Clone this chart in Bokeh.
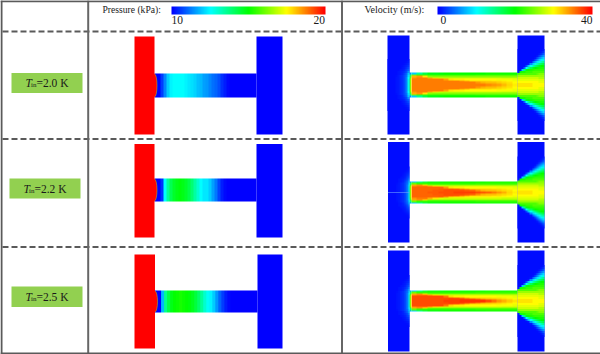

import numpy as np
from bokeh.plotting import figure
from bokeh.models import LinearColorMapper, Range1d
from bokeh.core.properties import value
from bokeh.embed import file_html
from bokeh.resources import INLINE

pressure_title = "Pressure (kPa):"
velocity_title = "Velocity (m/s):"
row_labels = ["2.0 K", "2.2 K", "2.5 K"]

pressure_inlet = 20.0
pressure_outlet = 10.0
velocity_plate = 0.5

pressure_channel_1 = [10, 10, 10.6, 11.3, 12, 12.4, 12.5, 12.5, 12.5, 12.5, 12.4, 12.3, 12.2, 12.1, 11.9, 11.8, 11.6,
                      11.5, 11.3, 11.1, 11, 10.8, 10.5, 10.3, 10.1, 10, 10, 10, 10, 10, 10, 10, 10, 10]
pressure_channel_2 = [10, 10, 10.5, 12.5, 13.5, 14.2, 14.6, 14.8, 14.9, 14.8, 14.6, 14.3, 13.9, 13.4, 13, 12.5, 12.3,
                      12.3, 12, 11.6, 11.2, 10.7, 10.3, 10.1, 10, 10, 10, 10, 10, 10, 10, 10, 10, 10]
pressure_channel_3 = [10, 10, 11.8, 13.6, 14.3, 14.8, 15, 15.1, 15.2, 15.1, 15, 14.9, 14.7, 14.4, 14, 13.5, 13,
                      12.6, 12.4, 12, 11.5, 11, 10.6, 10.3, 10.1, 10, 10, 10, 10, 10, 10, 10, 10, 10]

# outer layers of the channel, wall inward, along the channel (same in all three panels)
velocity_wall = [
    [8, 14, 17, 19, 19, 19.5, 20, 20, 20, 20, 20, 20, 20, 20, 20.5, 20.5, 20.5, 20.5, 20.5, 20.5],
    [24, 22, 22, 21.5, 21.5, 21.5, 21.5, 21.5, 21.5, 21.5, 21.5, 21.5, 22, 22, 22, 22, 22, 22, 22, 22],
    [33, 34, 31, 25.5, 25, 25, 25, 25, 25, 25, 25, 25, 25, 25, 25, 25, 25, 25, 25, 25],
    [34, 35, 35, 33, 31, 28.5, 28, 28, 28, 28, 28, 28, 28, 28, 28, 28, 28, 27.5, 27.5, 27.5],
]
# inner layers, toward the centre line
velocity_core_1 = [
    [35, 35, 35, 35, 35, 35, 33.5, 31, 30.5, 30.5, 30, 30, 30, 30, 30, 30, 29.5, 29.5, 29.5, 29],
    [35, 35, 35, 35, 35, 35, 35, 35, 35, 34, 33, 31.5, 31.5, 31.5, 31.5, 31, 31, 30.5, 30, 29.5],
    [35, 35, 35, 35, 35, 35, 35, 35, 35, 35, 35, 35, 34, 33, 32.5, 32.5, 32, 31.5, 31, 30],
    [35, 35, 35, 35, 35, 35, 35, 35, 35, 35, 35, 35, 35, 35, 34.5, 34, 33.5, 32.5, 31.5, 30.5],
]
velocity_core_2 = [
    [36, 36, 36, 36, 36, 36, 34, 31, 30.5, 30.5, 30, 30, 30, 30, 30, 30, 29.5, 29.5, 29.5, 29],
    [36, 36, 36, 36, 36, 36.5, 36.5, 36.5, 36, 34.5, 33, 31.5, 31.5, 31.5, 31.5, 31, 31, 30.5, 30, 29.5],
    [36, 36, 36, 36, 36.5, 36.5, 37, 37, 37, 37, 36.5, 36, 34.5, 33, 32.5, 32.5, 32, 31.5, 31, 30],
    [36, 36, 36, 36.5, 36.5, 37, 37, 37, 37.5, 37.5, 37.5, 37.5, 37, 36.5, 36, 35, 34, 33, 31.5, 30.5],
]
velocity_core_3 = [
    [37, 37, 37, 37, 37, 37, 35, 31.5, 30.5, 30.5, 30, 30, 30, 30, 30, 30, 29.5, 29.5, 29.5, 29],
    [37, 37, 37, 37, 37, 37, 37, 37, 36.5, 35, 33, 31.5, 31.5, 31.5, 31.5, 31, 31, 30.5, 30, 29.5],
    [37, 37, 37, 37, 37, 37, 37, 37.5, 37.5, 37.5, 37, 36.5, 35, 33.5, 32.5, 32.5, 32, 31.5, 31, 30],
    [37, 37, 37, 37, 37, 37, 37.5, 37.5, 37.5, 38, 38, 38, 38, 38, 37, 35.5, 34, 33, 32, 31],
]
# thin strip at the channel mouth, wall inward
velocity_entry = [[4, 8], [12, 18], [16, 24], [20, 28], [20, 30], [20, 30], [20, 30], [20, 30]]
# centre line outward, from the channel exit to the plate's far edge
velocity_jet = [
    [31, 31, 31, 31, 31, 31, 31, 30, 30, 30, 30, 30, 30],
    [30, 30, 30, 30, 30, 30, 30, 30, 30, 30, 29, 29, 29],
    [29, 29, 29, 29, 29, 29, 29, 29, 29, 29, 28.5, 28.5, 28.5],
    [28, 28, 28, 28, 28, 28, 28, 28, 28, 28, 27, 27, 27],
    [26, 26, 26, 26, 26, 26, 26, 26, 26, 26, 26, 26, 26],
    [23, 23, 23, 23, 23, 23, 23, 23, 23, 24, 25, 25, 25],
    [1, 19, 21, 21, 22, 22, 22, 23, 23, 23, 23, 23, 23],
    [0.5, 0.5, 8, 15, 19, 20.5, 21, 21.5, 22, 22, 22, 22, 22],
    [0.5, 0.5, 0.5, 4, 10, 14, 16.5, 18.7, 20, 20.5, 21, 21, 21],
    [0.5, 0.5, 0.5, 0.5, 3, 7.5, 10.5, 13.4, 15.6, 17.3, 18.7, 20, 20],
    [0.5, 0.5, 0.5, 0.5, 0.5, 1, 5.5, 8.5, 11, 13, 15, 16.4, 17.6],
    [0.5, 0.5, 0.5, 0.5, 0.5, 0.5, 1, 4.5, 7, 9, 11, 13, 14.4],
    [0.5, 0.5, 0.5, 0.5, 0.5, 0.5, 0.5, 1, 3, 5.5, 8, 9.5, 11.2],
    [0.5, 0.5, 0.5, 0.5, 0.5, 0.5, 0.5, 0.5, 1, 3, 5, 6.9, 8.5],
    [0.5, 0.5, 0.5, 0.5, 0.5, 0.5, 0.5, 0.5, 0.5, 1, 2.5, 4.5, 6],
    [0.5, 0.5, 0.5, 0.5, 0.5, 0.5, 0.5, 0.5, 0.5, 0.5, 1, 2, 3.5],
    [0.5, 0.5, 0.5, 0.5, 0.5, 0.5, 0.5, 0.5, 0.5, 0.5, 0.5, 1, 2],
    [0.5, 0.5, 0.5, 0.5, 0.5, 0.5, 0.5, 0.5, 0.5, 0.5, 0.5, 0.5, 1],
]
# centre line outward, across the inlet plate toward the channel mouth
velocity_glow = [
    [0.5, 0.5, 0.5, 0.5, 0.8, 1, 1.5, 2, 3, 5, 11],
    [0.5, 0.5, 0.5, 0.5, 0.8, 1, 1.5, 2, 3, 5, 11],
    [0.5, 0.5, 0.5, 0.5, 0.8, 1, 1.5, 2, 3, 5, 11],
    [0.5, 0.5, 0.5, 0.5, 0.8, 1, 1.5, 2, 3, 5, 10],
    [0.5, 0.5, 0.5, 0.5, 0.7, 1, 1.5, 2, 3, 4.5, 9],
    [0.5, 0.5, 0.5, 0.5, 0.5, 0.8, 1, 1.5, 2.5, 4, 8],
    [0.5, 0.5, 0.5, 0.5, 0.5, 0.8, 1, 1.3, 2, 3, 6],
    [0.5, 0.5, 0.5, 0.5, 0.5, 0.5, 0.8, 1, 1.5, 2.5, 4],
    [0.5, 0.5, 0.5, 0.5, 0.5, 0.5, 0.6, 0.8, 1.2, 2, 3],
    [0.5, 0.5, 0.5, 0.5, 0.5, 0.5, 0.5, 0.7, 1, 1.5, 2.2],
    [0.5, 0.5, 0.5, 0.5, 0.5, 0.5, 0.5, 0.5, 0.7, 1, 1.7],
    [0.5, 0.5, 0.5, 0.5, 0.5, 0.5, 0.5, 0.5, 0.5, 0.7, 1.2],
    [0.5, 0.5, 0.5, 0.5, 0.5, 0.5, 0.5, 0.5, 0.5, 0.5, 0.9],
]

pressure_channels = [pressure_channel_1, pressure_channel_2, pressure_channel_3]
velocity_cores = [velocity_core_1, velocity_core_2, velocity_core_3]

W, H = 600, 354
def Y(px):
    return H - px

anchors = [(0, 0, 255), (0, 255, 255), (0, 255, 0), (255, 255, 0), (255, 0, 0)]
palette = []
for t in np.linspace(0, 4, 256):
    i = min(int(t), 3)
    f = t - i
    c = [round(anchors[i][k] * (1 - f) + anchors[i + 1][k] * f) for k in range(3)]
    palette.append("#%02x%02x%02x" % tuple(c))
pmap = LinearColorMapper(palette=palette, low=10, high=20)
vmap = LinearColorMapper(palette=palette, low=0, high=40)

p = figure(width=W, height=H, x_range=Range1d(0, W), y_range=Range1d(0, H),
           output_backend="svg", toolbar_location=None, min_border=0,
           outline_line_color=None, background_fill_color="white", border_fill_color="white")
p.axis.visible = False
p.grid.visible = False
p.styles = {"position": "absolute", "left": "0px", "top": "0px"}

def field(rows, x0, x1, y0, y1, mapper):
    arr = np.array(rows, dtype=float)
    p.image(image=[arr], x=x0, y=Y(y1), dw=x1 - x0, dh=y1 - y0, color_mapper=mapper)

p_geo = [
    dict(l0=134, l1=154, r0=256, r1=282, top=36, bot=134, ct=73, cb=97),
    dict(l0=134, l1=154, r0=256, r1=282, top=143.5, bot=237, ct=178, cb=201),
    dict(l0=134, l1=154.5, r0=257, r1=282, top=254, bot=348, ct=290, cb=312),
]
v_geo = [
    dict(l0=387, l1=409, r0=517, r1=544, top=35, bot=134, ct=72, cb=97),
    dict(l0=387.5, l1=409, r0=517, r1=544, top=141.5, bot=242, ct=181, cb=203),
    dict(l0=387.5, l1=409, r0=517, r1=544, top=250, bot=351, ct=290, cb=311),
]

for g, prof in zip(p_geo, pressure_channels):
    field([prof], g["l1"], g["r0"], g["ct"], g["cb"], pmap)
    cy = (g["ct"] + g["cb"]) / 2
    p.ellipse(x=[g["l1"]], y=[Y(cy)], width=5, height=g["cb"] - g["ct"] - 1,
              fill_color="#ff0000", line_color="#b0d020", line_width=0.5)
    field([[pressure_inlet]], g["l0"], g["l1"], g["top"], g["bot"], pmap)
    field([[pressure_outlet]], g["r0"], g["r1"], g["top"], g["bot"], pmap)

for idx, (g, core) in enumerate(zip(v_geo, velocity_cores)):
    cy = (g["ct"] + g["cb"]) / 2
    field([[velocity_plate]], g["l0"], g["l1"], g["top"], g["bot"], vmap)
    field([[velocity_plate]], g["r0"], g["r1"], g["top"], g["bot"], vmap)
    half = velocity_wall + core
    field(half + half[::-1], g["l1"] + 2, g["r0"], g["ct"], g["cb"], vmap)
    field(velocity_entry + velocity_entry[::-1], g["l1"], g["l1"] + 2, g["ct"], g["cb"], vmap)
    n = len(velocity_jet)
    field(velocity_jet[::-1] + velocity_jet, g["r0"], g["r1"], cy - 2 * n, cy + 2 * n, vmap)
    m = len(velocity_glow)
    field(velocity_glow[::-1] + velocity_glow, g["l0"], g["l1"], cy - 2 * m, cy + 2 * m, vmap)
    if idx == 1:
        p.segment(x0=[g["l0"]], y0=[Y(cy)], x1=[g["l1"]], y1=[Y(cy)], line_color="#6aa0ff", line_width=1, line_alpha=0.6)

gray = "#5a5a5a"
for y in [31, 138.5, 246.5]:
    p.segment(x0=[2], y0=[Y(y)], x1=[W], y1=[Y(y)], line_color=gray, line_width=2, line_dash="6 3")
for x in [87.7, 341.5]:
    p.segment(x0=[x], y0=[0], x1=[x], y1=[H], line_color="#666666", line_width=2)
p.segment(x0=[1, 0, 0], y0=[0, Y(0.8), Y(353)], x1=[1, W, W], y1=[H, Y(0.8), Y(353)],
          line_color=gray, line_width=2)

field([list(np.linspace(10, 20, 154))], 171, 325, 6, 14, pmap)
field([list(np.linspace(0, 40, 154))], 437, 592, 6, 14, vmap)

serif = value("Liberation Serif")
dark = "#1a1a1a"
def label(x, y, s, size, style="normal", align="left"):
    p.text(x=[x], y=[Y(y)], text=[s], text_font=serif, text_font_size=size, text_font_style=style,
           text_color=dark, text_align=align, text_baseline="alphabetic")

label(102, 9, pressure_title, "9.6px")
label(364, 9, velocity_title, "10px")
label(171, 19, "10", "11.5px")
label(324.5, 19, "20", "11.5px", align="right")
label(440, 19, "0", "11.5px")
label(592, 19, "40", "11.5px", align="right")

boxes = [(11, 72.5, 82, 92.5), (9, 178, 80, 198), (11, 286, 82, 306.5)]
for (x0, y0, x1, y1), s in zip(boxes, row_labels):
    p.quad(left=[x0], right=[x1], bottom=[Y(y1)], top=[Y(y0)], fill_color="#92d050", line_color=None)
    base = (y0 + y1) / 2
    label(x0 + 14, base, "T", "11.5px", style="italic")
    label(x0 + 19.5, base + 2, "in", "7px")
    label(x0 + 25, base, "=" + s, "11.5px")

open("out.html", "w").write(file_html(p, INLINE))
